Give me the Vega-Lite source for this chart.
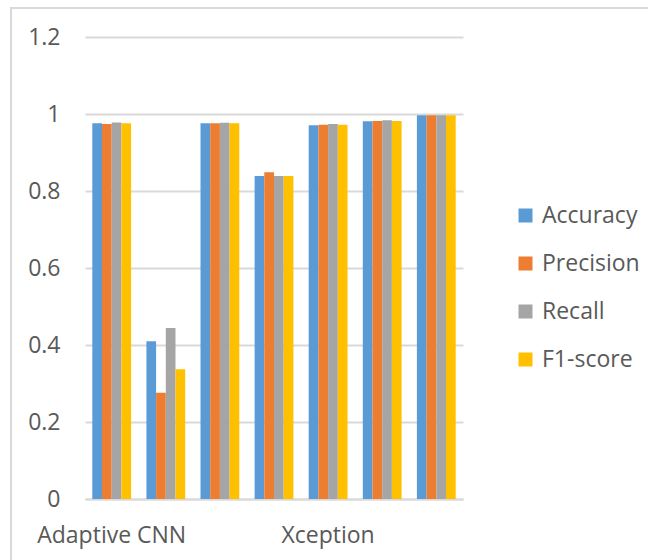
{
  "$schema": "https://vega.github.io/schema/vega-lite/v6.json",
  "width": 638,
  "height": 553,
  "autosize": "none",
  "padding": {"left": 11, "top": 8, "right": 0, "bottom": 0},
  "background": "white",
  "config": {
    "view": {"stroke": "#D9D9D9", "strokeWidth": 2},
    "font": "Open Sans"
  },
  "data": {
    "values": [
      {"model": "Adaptive CNN", "metric": "Accuracy", "value": 0.976},
      {"model": "Adaptive CNN", "metric": "Precision", "value": 0.974},
      {"model": "Adaptive CNN", "metric": "Recall", "value": 0.978},
      {"model": "Adaptive CNN", "metric": "F1-score", "value": 0.976},
      {"model": "Model 2", "metric": "Accuracy", "value": 0.410},
      {"model": "Model 2", "metric": "Precision", "value": 0.276},
      {"model": "Model 2", "metric": "Recall", "value": 0.444},
      {"model": "Model 2", "metric": "F1-score", "value": 0.337},
      {"model": "Model 3", "metric": "Accuracy", "value": 0.976},
      {"model": "Model 3", "metric": "Precision", "value": 0.976},
      {"model": "Model 3", "metric": "Recall", "value": 0.977},
      {"model": "Model 3", "metric": "F1-score", "value": 0.976},
      {"model": "Model 4", "metric": "Accuracy", "value": 0.839},
      {"model": "Model 4", "metric": "Precision", "value": 0.849},
      {"model": "Model 4", "metric": "Recall", "value": 0.839},
      {"model": "Model 4", "metric": "F1-score", "value": 0.839},
      {"model": "Xception", "metric": "Accuracy", "value": 0.971},
      {"model": "Xception", "metric": "Precision", "value": 0.972},
      {"model": "Xception", "metric": "Recall", "value": 0.974},
      {"model": "Xception", "metric": "F1-score", "value": 0.972},
      {"model": "Model 6", "metric": "Accuracy", "value": 0.981},
      {"model": "Model 6", "metric": "Precision", "value": 0.982},
      {"model": "Model 6", "metric": "Recall", "value": 0.984},
      {"model": "Model 6", "metric": "F1-score", "value": 0.982},
      {"model": "Model 7", "metric": "Accuracy", "value": 0.997},
      {"model": "Model 7", "metric": "Precision", "value": 0.997},
      {"model": "Model 7", "metric": "Recall", "value": 0.997},
      {"model": "Model 7", "metric": "F1-score", "value": 0.997}
    ]
  },
  "mark": {"type": "bar"},
  "encoding": {
    "x": {
      "field": "model",
      "type": "nominal",
      "sort": null,
      "scale": {"range": [74, 452], "paddingInner": 0.283, "paddingOuter": 0.135},
      "axis": {
        "title": null,
        "labelAngle": 0,
        "labelExpr": "datum.value == 'Adaptive CNN' || datum.value == 'Xception' ? datum.value : ''",
        "labelFontSize": 23,
        "labelColor": "#595959",
        "labelPadding": 25,
        "ticks": false,
        "grid": false,
        "domainColor": "#D9D9D9",
        "domainWidth": 2,
        "offset": -62
      }
    },
    "xOffset": {
      "field": "metric",
      "type": "nominal",
      "sort": ["Accuracy", "Precision", "Recall", "F1-score"]
    },
    "y": {
      "field": "value",
      "type": "quantitative",
      "scale": {"domain": [0, 1.2], "range": [491, 29], "nice": false, "zero": true},
      "axis": {
        "title": null,
        "values": [0, 0.2, 0.4, 0.6, 0.8, 1, 1.2],
        "format": ".1~f",
        "labelFontSize": 23,
        "labelColor": "#595959",
        "labelPadding": 25,
        "ticks": false,
        "domain": false,
        "grid": true,
        "gridColor": "#D9D9D9",
        "gridWidth": 2,
        "offset": -74
      }
    },
    "color": {
      "field": "metric",
      "type": "nominal",
      "sort": ["Accuracy", "Precision", "Recall", "F1-score"],
      "scale": {
        "domain": ["Accuracy", "Precision", "Recall", "F1-score"],
        "range": ["#5B9BD5", "#ED7D31", "#A5A5A5", "#FFC000"]
      },
      "legend": {
        "orient": "none",
        "legendX": 503,
        "legendY": 196,
        "title": null,
        "symbolType": "square",
        "symbolSize": 196,
        "symbolStrokeWidth": 0,
        "labelFontSize": 23,
        "labelColor": "#595959",
        "labelOffset": 5,
        "rowPadding": 24,
        "padding": 0
      }
    }
  }
}
